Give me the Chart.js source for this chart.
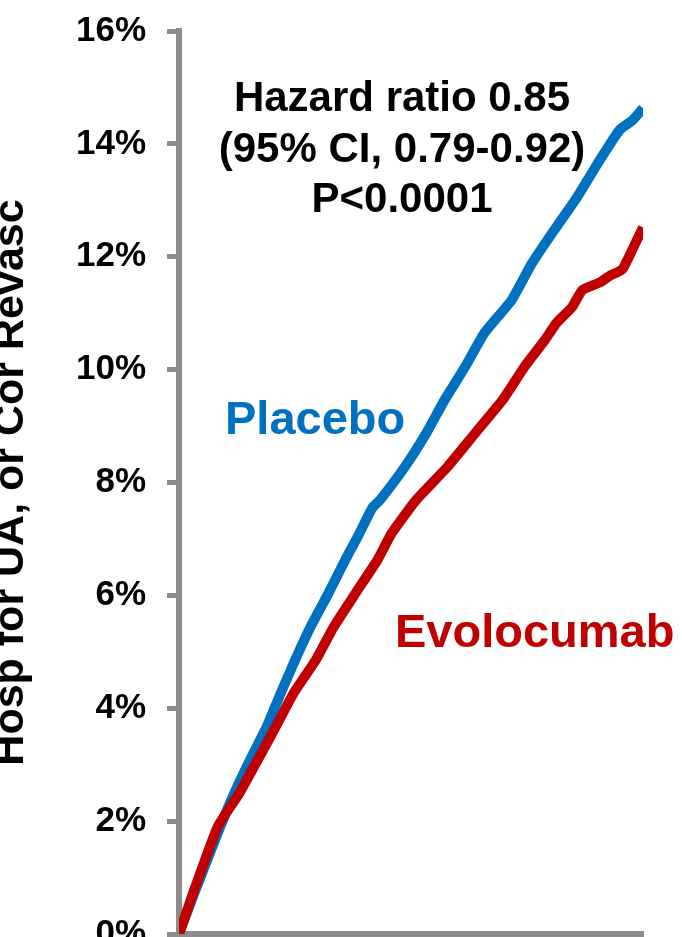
<!DOCTYPE html>
<html>
<head>
<meta charset="utf-8">
<script src="https://cdn.jsdelivr.net/npm/chart.js@4.4.1/dist/chart.umd.min.js"></script>
<style>
  html, body { margin: 0; padding: 0; background: #ffffff; }
  #wrap { position: relative; width: 682px; height: 937px; }
</style>
</head>
<body>
<div id="wrap"><canvas id="chart"></canvas></div>
<script>
// Cumulative event rate (%) by month of follow-up
const placeboMonths = [0, 1.2, 3.2, 4.3, 5.5, 6.8, 7.9, 9.0, 10.2, 11.6, 12.9, 14.0, 15.0, 15.6, 17.5, 19.2, 20.6, 22.2, 23.7, 25.8, 27.4, 29.1, 30.9, 32.5, 34.2, 35.2, 36.0];
const placeboRate   = [0, 0.73, 1.90, 2.50, 3.08, 3.67, 4.27, 4.85, 5.44, 6.04, 6.63, 7.10, 7.55, 7.69, 8.27, 8.88, 9.46, 10.05, 10.65, 11.23, 11.89, 12.47, 13.06, 13.66, 14.25, 14.42, 14.63];

const evolocumabMonths = [0, 1.1, 3.0, 4.7, 6.1, 7.5, 8.9, 10.6, 12.0, 13.7, 15.4, 16.5, 18.4, 20.8, 23.0, 25.1, 26.8, 28.4, 29.3, 30.5, 31.3, 32.7, 33.4, 34.4, 35.2, 36.0];
const evolocumabRate   = [0, 0.73, 1.90, 2.50, 3.08, 3.67, 4.27, 4.85, 5.44, 6.04, 6.63, 7.10, 7.69, 8.27, 8.88, 9.46, 10.05, 10.53, 10.83, 11.11, 11.41, 11.55, 11.66, 11.78, 12.14, 12.52];

const yTickValues = [0, 2, 4, 6, 8, 10, 12, 14, 16];
const yAxisTitle = 'Hosp for UA, or Cor Revasc';
const statLines = ['Hazard ratio 0.85', '(95% CI, 0.79-0.92)', 'P<0.0001'];
const seriesNames = ['Placebo', 'Evolocumab'];

const FONT = '"Liberation Sans", Arial, Helvetica, sans-serif';
const AXIS_GREY = '#8c8c8c';
const BLUE = '#0070C0';
const RED = '#C00000';

const toPoints = (xs, ys) => xs.map((x, i) => ({ x: x, y: ys[i] }));

// Text labels drawn on top of the plot
const labelsPlugin = {
  id: 'curveLabels',
  afterDatasetsDraw(chart) {
    const ctx = chart.ctx;
    ctx.save();
    ctx.fillStyle = '#000000';
    ctx.font = 'bold 42px ' + FONT;
    ctx.textAlign = 'center';
    ctx.textBaseline = 'alphabetic';
    statLines.forEach((line, i) => ctx.fillText(line, 402, 111 + i * 50.5));

    ctx.textAlign = 'left';
    ctx.font = 'bold 47px ' + FONT;
    ctx.fillStyle = BLUE;
    ctx.fillText(seriesNames[0], 225, 434);
    ctx.fillStyle = RED;
    ctx.fillText(seriesNames[1], 395, 647);
    ctx.restore();
  }
};

new Chart(document.getElementById('chart'), {
  type: 'line',
  data: {
    datasets: [
      {
        label: seriesNames[1],
        data: toPoints(evolocumabMonths, evolocumabRate),
        borderColor: RED,
        borderWidth: 10,
        pointRadius: 0,
        fill: false,
        tension: 0.15
      },
      {
        label: seriesNames[0],
        data: toPoints(placeboMonths, placeboRate),
        borderColor: BLUE,
        borderWidth: 10,
        pointRadius: 0,
        fill: false,
        tension: 0.15
      }
    ]
  },
  options: {
    responsive: true,
    maintainAspectRatio: false,
    animation: false,
    layout: { padding: { top: 31, right: 39, bottom: 3, left: 0 } },
    plugins: {
      legend: { display: false },
      tooltip: { enabled: false }
    },
    scales: {
      x: {
        type: 'linear',
        min: 0,
        max: 36,
        ticks: { display: false },
        grid: { display: false },
        border: { display: true, color: AXIS_GREY, width: 6 },
        afterFit(scale) {
          scale.height = 0;
          scale.paddingLeft = 0;
          scale.paddingRight = 0;
        }
      },
      y: {
        type: 'linear',
        min: 0,
        max: 16,
        afterBuildTicks(scale) {
          scale.ticks = yTickValues.map(v => ({ value: v }));
        },
        ticks: {
          callback: v => v + '%',
          color: '#000000',
          padding: 21,
          font: { family: FONT, size: 35, weight: 'bold' }
        },
        grid: {
          drawOnChartArea: false,
          drawTicks: true,
          tickLength: 12,
          lineWidth: 5,
          color: AXIS_GREY
        },
        border: { display: true, color: AXIS_GREY, width: 6 },
        title: {
          display: true,
          text: yAxisTitle,
          color: '#000000',
          padding: 0,
          font: { family: FONT, size: 43, weight: 'bold', lineHeight: 0.5 }
        },
        afterFit(scale) {
          scale.width = 179;
          scale.paddingTop = 0;
          scale.paddingBottom = 0;
        }
      }
    }
  },
  plugins: [labelsPlugin]
});
</script>
</body>
</html>
